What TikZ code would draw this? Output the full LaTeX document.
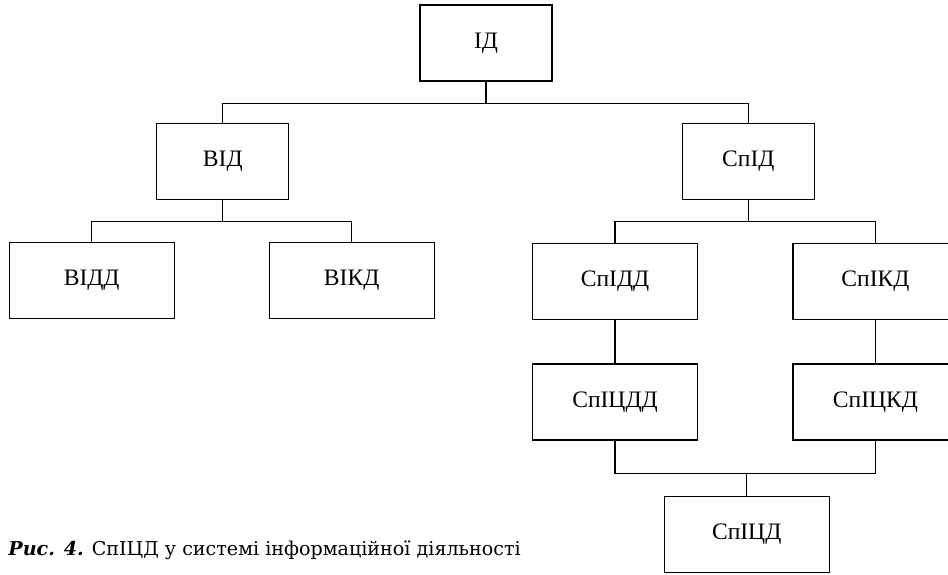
\documentclass[tikz,border=0pt]{standalone}
\usepackage{fontspec}
\setmainfont{Liberation Serif}
\newfontfamily\capfont{DejaVu Serif}
\begin{document}
\begin{tikzpicture}[x=0.5pt, y=-0.5pt,
    box/.style={draw, line width=0.6pt, minimum width=66pt, minimum height=38pt,
        inner sep=0pt, font=\fontsize{11.8}{14}\selectfont},
    widebox/.style={box, minimum width=82.5pt},
    link/.style={line width=0.6pt}]
    \useasboundingbox (0,0) rectangle (948,574);
    % top levels
    \node [box] (id) at (486, 43) {ІД};
    \node [box] (vid) at (222.8, 161.4) {ВІД};
    \node [box] (spid) at (748.3, 161.4) {СпІД};
    % left branch
    \node [widebox] (vidd) at (91.7, 280.5) {ВІДД};
    \node [widebox] (vikd) at (351.7, 280.5) {ВІКД};
    % right branch
    \node [widebox] (spidd) at (615, 281.5) {СпІДД};
    \node [widebox] (spikd) at (875.5, 281.5) {СпІКД};
    \node [widebox] (spicdd) at (615, 402) {СпІЦДД};
    \node [widebox] (spickd) at (875.5, 402) {СпІЦКД};
    \node [widebox] (spicd) at (746.7, 534.5) {СпІЦД};

    \draw [link] (id.south) -- ++(0, 21.7) coordinate (busA);
    \draw [link] (busA) -| (vid.north);
    \draw [link] (busA) -| (spid.north);

    \draw [link] (vid.south) -- ++(0, 21.7) coordinate (busB);
    \draw [link] (busB) -| (vidd.north);
    \draw [link] (busB) -| (vikd.north);

    \draw [link] (spid.south) -- ++(0, 21.7) coordinate (busC);
    \draw [link] (busC) -| (spidd.north);
    \draw [link] (busC) -| (spikd.north);

    \draw [link] (spidd) -- (spicdd);
    \draw [link] (spikd) -- (spickd);

    \draw [link] (spicd.north) -- ++(0, -22.7) coordinate (busD);
    \draw [link] (busD) -| (spicdd.south);
    \draw [link] (busD) -| (spickd.south);

    \node [anchor=base west, inner sep=0pt, font=\fontsize{9.55}{11}\capfont] (caption) at (8, 555)
        {\textbf{\textit{Рис. 4.}} СпІЦД у системі інформаційної діяльності};
\end{tikzpicture}
\end{document}
